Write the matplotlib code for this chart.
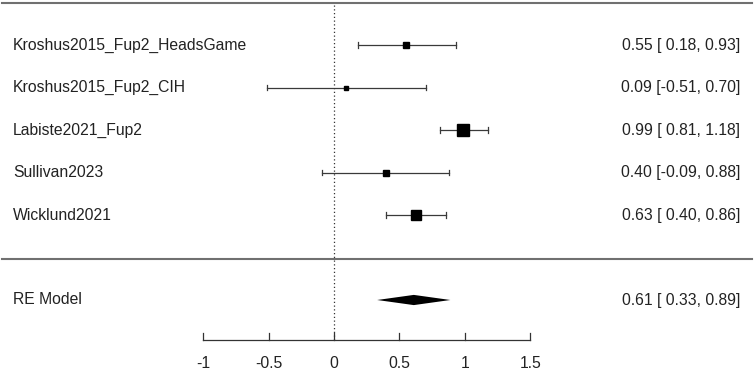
import matplotlib
matplotlib.use("Agg")
import matplotlib.pyplot as plt
import numpy as np

# study data
studies = ["Kroshus2015_Fup2_HeadsGame", "Kroshus2015_Fup2_CIH", "Labiste2021_Fup2",
           "Sullivan2023", "Wicklund2021"]
est = [0.55, 0.09, 0.99, 0.40, 0.63]
lo = [0.18, -0.51, 0.81, -0.09, 0.40]
hi = [0.93, 0.70, 1.18, 0.88, 0.86]
sq_size = [5.0, 2.8, 8.0, 4.0, 7.0]  # marker size ~ study weight

re_est, re_lo, re_hi = 0.61, 0.33, 0.89
xticks = [-1, -0.5, 0, 0.5, 1, 1.5]

plt.rcParams['font.family'] = ['Liberation Sans', 'DejaVu Sans']

fig = plt.figure(figsize=(7.54, 3.76), dpi=100)
ax = fig.add_axes([0, 0, 1, 1])
ax.set_xlim(-334 / 130.8, (754 - 334) / 130.8)
ax.set_ylim(1 - 161 / 42.5, 1 + 215 / 42.5)
ax.axis('off')

rows = np.arange(len(studies), 0, -1)
lc = '#3a3a3a'
cap = 0.07
fs = 11.3

x_left = -321 / 130.8
x_right = 740 / 130.8 - 334 / 130.8

for r, name, e, l, h, s in zip(rows, studies, est, lo, hi, sq_size):
    ax.plot([l, h], [r, r], color=lc, lw=0.9)
    ax.plot([l, l], [r - cap, r + cap], color=lc, lw=0.9)
    ax.plot([h, h], [r - cap, r + cap], color=lc, lw=0.9)
    ax.plot(e, r, marker='s', color='black', markersize=s, linestyle='none')
    ax.text(x_left, r, name, ha='left', va='center', fontsize=fs, color='#222222')
    ax.text(x_right, r, f"{e:.2f} [{l:5.2f}, {h:.2f}]",
            ha='right', va='center', fontsize=fs, color='#222222')

# RE model diamond
re_row = -1
dh = 0.12
ax.fill([re_lo, re_est, re_hi, re_est], [re_row, re_row + dh, re_row, re_row - dh],
        color='black', lw=0)
ax.text(x_left, re_row, "RE Model", ha='left', va='center', fontsize=fs, color='#222222')
ax.text(x_right, re_row, f"{re_est:.2f} [{re_lo:5.2f}, {re_hi:.2f}]",
        ha='right', va='center', fontsize=fs, color='#222222')

# horizontal lines (top and separator)
xl = ax.get_xlim()
ax.plot([xl[0] + 0.015, xl[1] - 0.015], [6 - 0.02, 6 - 0.02], color='#707070', lw=1.5)
ax.plot([xl[0] + 0.015, xl[1] - 0.015], [-0.03, -0.03], color='#707070', lw=1.5)

# reference line at 0
axis_row = -1.94
ax.plot([0, 0], [axis_row, 6], color='#333333', lw=0.9, linestyle=(0, (1, 2)))

# x axis
ax.plot([xticks[0], xticks[-1]], [axis_row, axis_row], color='#333333', lw=0.9)
for t in xticks:
    ax.plot([t, t], [axis_row, axis_row + 0.17], color='#333333', lw=0.9)
    ax.text(t, axis_row - 0.55, f"{t:g}", ha='center', va='center', fontsize=fs, color='#222222')

fig.savefig("out.png", dpi=100)
